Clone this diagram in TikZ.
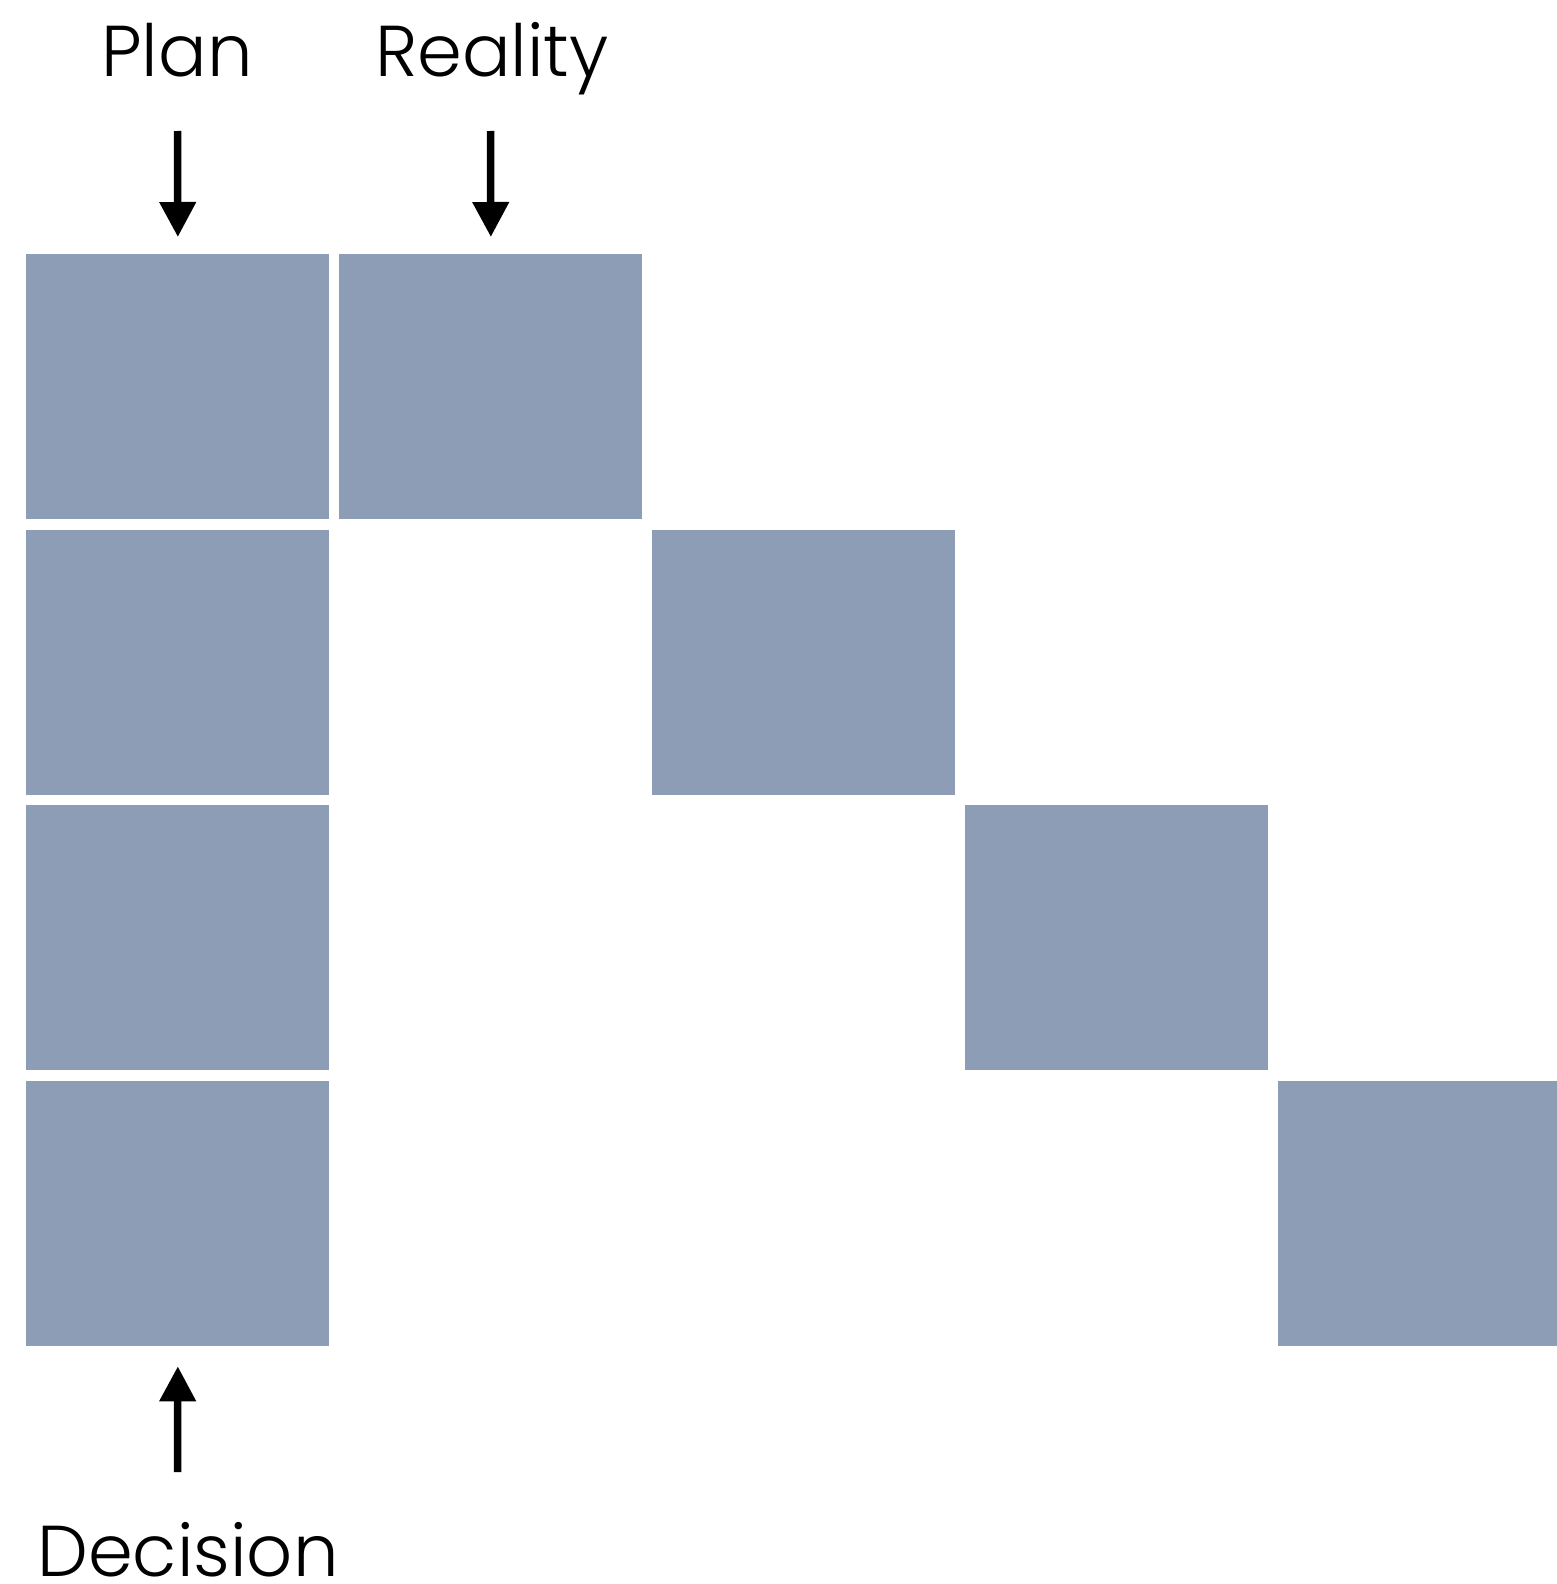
\documentclass[tikz,border=0pt]{standalone}
\usepackage{fontspec}
\setmainfont{Poppins}[UprightFont=* Light]
\usetikzlibrary{arrows.meta}
\definecolor{tile}{RGB}{141,157,182}
\tikzset{
  tilebox/.style={rectangle, fill=tile, draw=none, inner sep=0pt,
    minimum width=151.5pt, minimum height=132.5pt, anchor=north west},
  label/.style={inner sep=0pt, anchor=base, font=\fontsize{36pt}{40pt}\selectfont},
  flow/.style={line width=3.75pt, -{Triangle[width=17.5pt,length=17.5pt]}}
}
\begin{document}
\begin{tikzpicture}[x=0.5pt,y=-0.5pt]
  % page frame
  \clip (0,0) rectangle (1557,1584);
  \fill[white] (0,0) rectangle (1557,1584);

  % plan column
  \node[tilebox] (p1) at (26,254) {};
  \node[tilebox] (p2) at (26,529.5) {};
  \node[tilebox] (p3) at (26,805) {};
  \node[tilebox] (p4) at (26,1080.5) {};

  % reality diagonal
  \node[tilebox] (r1) at (339,254) {};
  \node[tilebox] (r2) at (652,529.5) {};
  \node[tilebox] (r3) at (965,805) {};
  \node[tilebox] (r4) at (1278,1080.5) {};

  % labels
  \node[label] (plan) at (177,76) {Plan};
  \node[label] (reality) at (492,76) {Reality};
  \node[label] (decision) at (188,1576) {Decision};

  % arrow tails
  \coordinate (planTail) at (177.5,131);
  \coordinate (realTail) at (490.5,131);
  \coordinate (decTail) at (177.5,1472);

  \draw[flow, shorten >=8.5pt] (planTail) -- (p1.north);
  \draw[flow, shorten >=8.5pt] (realTail) -- (r1.north);
  \draw[flow, shorten >=10pt] (decTail) -- (p4.south);
\end{tikzpicture}
\end{document}
